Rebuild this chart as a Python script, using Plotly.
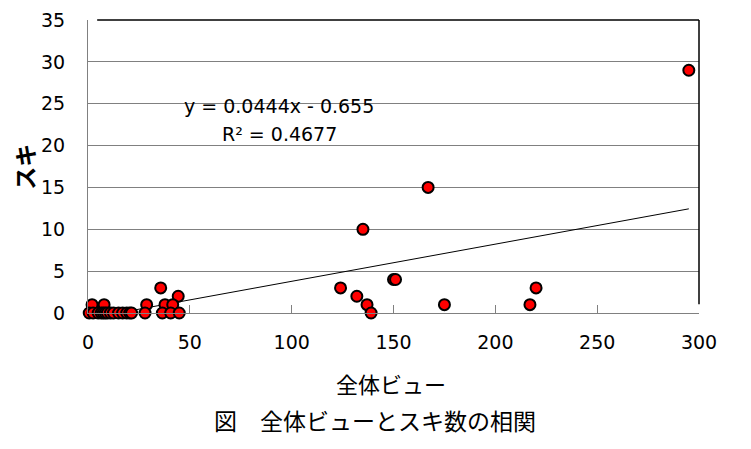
import plotly.graph_objects as go

# 全体ビュー (x) とスキ (y)
views = [295, 167, 135, 150, 151, 124, 132, 137, 139, 175, 217, 220,
         35.7, 44.3, 28.8, 37.8, 41.6, 2, 7.9,
         0.6, 2.5, 5, 6.5, 7.5, 8.5, 9.5, 11, 12.5, 15, 17, 19, 20.5, 21.4,
         28, 36.5, 40.6, 44.8]
likes = [29, 15, 10, 4, 4, 3, 2, 1, 0, 1, 1, 3,
         3, 2, 1, 1, 1, 1, 1,
         0, 0, 0, 0, 0, 0, 0, 0, 0, 0, 0, 0, 0, 0,
         0, 0, 0, 0]

slope = 0.0444
intercept = -0.655
trend_x = [min(views), max(views)]
trend_y = [slope * v + intercept for v in trend_x]

x_ticks = [0, 50, 100, 150, 200, 250, 300]
y_ticks = [0, 5, 10, 15, 20, 25, 30, 35]

jp = "Noto Sans CJK JP"
num = "DejaVu Sans"

fig = go.Figure()

fig.add_trace(go.Scatter(
    x=trend_x, y=trend_y, mode="lines",
    line=dict(color="black", width=1),
    hoverinfo="skip"
))

fig.add_trace(go.Scatter(
    x=views, y=likes, mode="markers",
    marker=dict(color="#ff0000", size=11, line=dict(color="black", width=2)),
    cliponaxis=False
))

# page body adds ~8px offset, margins compensate for it
fig.update_layout(
    width=751, height=449,
    margin=dict(l=80, r=60, t=12, b=144),
    paper_bgcolor="white", plot_bgcolor="white",
    showlegend=False,
    font=dict(family=num, color="black", size=19),
)

fig.update_xaxes(
    range=[0, 300], tickvals=x_ticks, automargin=False,
    showgrid=False, zeroline=False,
    showline=True, linecolor="#808080", linewidth=1,
    ticks="inside", ticklen=8, tickcolor="#808080",
    tickfont=dict(family=num, size=19), ticklabelstandoff=12,
)
fig.update_yaxes(
    range=[0, 35], tickvals=y_ticks, automargin=False,
    showgrid=True, gridcolor="#808080", gridwidth=1,
    zeroline=False,
    showline=True, linecolor="#808080", linewidth=1,
    ticks="", tickfont=dict(family=num, size=19), ticklabelstandoff=18,
)

# plot area border: top and right in black
fig.add_shape(type="line", xref="paper", yref="paper", x0=0.015, x1=1, y0=1, y1=1,
              line=dict(color="black", width=1.5))
fig.add_shape(type="line", xref="paper", yref="paper", x0=1, x1=1, y0=0.03, y1=1,
              line=dict(color="black", width=1.5))

fig.add_annotation(x=94, y=24.7, xref="x", yref="y",
                   text="y = 0.0444x - 0.655", showarrow=False,
                   font=dict(family=num, size=19))
fig.add_annotation(x=94, y=21.4, xref="x", yref="y",
                   text="R² = 0.4677", showarrow=False,
                   font=dict(family=num, size=19))

# axis titles and caption
fig.add_annotation(x=-0.106, y=0.5, xref="paper", yref="paper",
                   xanchor="center", yanchor="middle",
                   text="<b>スキ</b>", showarrow=False, textangle=-90,
                   font=dict(family=jp, size=23))
fig.add_annotation(x=0.496, y=-0.239, xref="paper", yref="paper",
                   xanchor="center", yanchor="middle",
                   text="全体ビュー", showarrow=False,
                   font=dict(family=jp, size=22))
fig.add_annotation(x=0.47, y=-0.365, xref="paper", yref="paper",
                   xanchor="center", yanchor="middle",
                   text="図　全体ビューとスキ数の相関", showarrow=False,
                   font=dict(family=jp, size=23))

fig.write_html("out.html")
